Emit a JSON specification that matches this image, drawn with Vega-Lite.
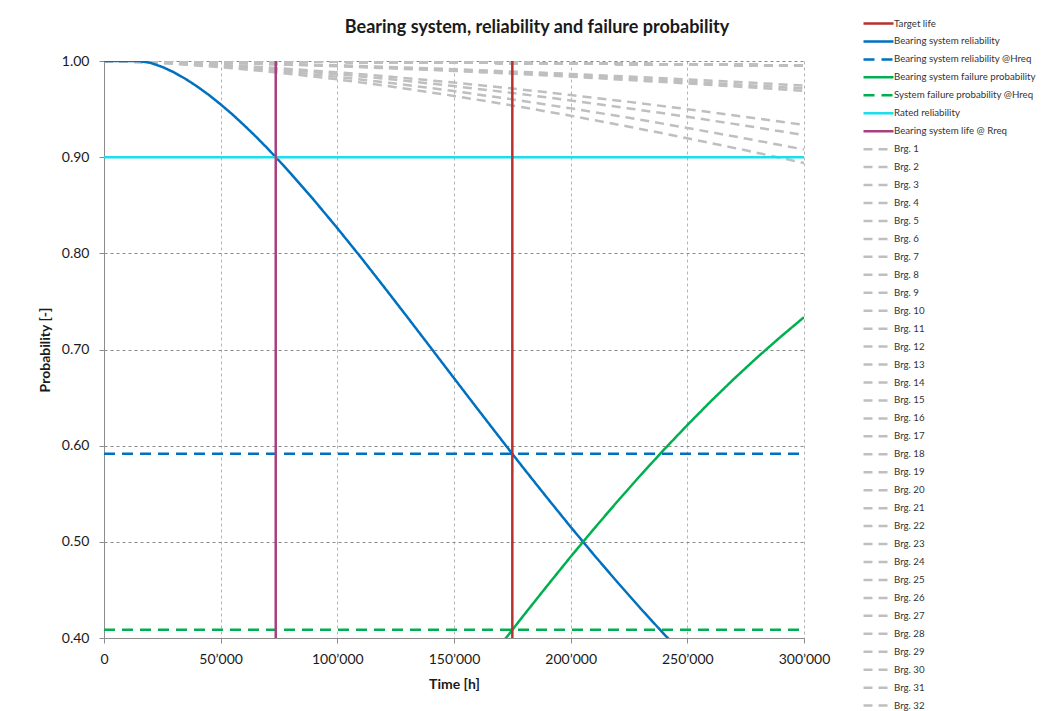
{
  "$schema": "https://vega.github.io/schema/vega-lite/v6.json",
  "width": 700,
  "height": 577,
  "autosize": {"type": "none"},
  "padding": {"left": 104, "top": 61, "right": 253, "bottom": 73},
  "background": "white",
  "title": {
    "text": "Bearing system, reliability and failure probability",
    "font": "Lato",
    "fontSize": 18,
    "fontWeight": "bold",
    "color": "#1a1a1a",
    "anchor": "middle",
    "dx": 83,
    "dy": 44,
    "offset": 24
  },
  "config": {
    "font": "Lato",
    "view": {"stroke": null},
    "axis": {
      "labelFont": "Lato",
      "labelFontSize": 14,
      "labelColor": "#1a1a1a",
      "titleFont": "Lato",
      "titleFontSize": 14,
      "titleFontWeight": "bold",
      "titleColor": "#1a1a1a",
      "domainColor": "#8c8c8c",
      "tickColor": "#8c8c8c",
      "tickSize": 5,
      "labelFlush": false,
      "labelOverlap": false,
      "grid": true,
      "gridDash": [3, 3],
      "gridWidth": 1
    },
    "legend": {
      "orient": "none",
      "legendX": 768,
      "legendY": -44,
      "symbolType": "M-3,0H3",
      "symbolSize": 100,
      "symbolStrokeWidth": 2.5,
      "labelFont": "Lato",
      "labelFontSize": 9.7,
      "labelColor": "#333333",
      "labelOffset": 9,
      "rowPadding": 5.95,
      "symbolLimit": 50,
      "labelLimit": 300,
      "padding": 0
    }
  },
  "datasets": {
    "bearings": [
      {"series": "Brg. 1", "t": 0, "r": 1}, {"series": "Brg. 1", "t": 25000, "r": 0.9987}, {"series": "Brg. 1", "t": 50000, "r": 0.9961}, {"series": "Brg. 1", "t": 75000, "r": 0.9925}, {"series": "Brg. 1", "t": 100000, "r": 0.9882}, {"series": "Brg. 1", "t": 125000, "r": 0.9832}, {"series": "Brg. 1", "t": 150000, "r": 0.9776}, {"series": "Brg. 1", "t": 175000, "r": 0.9714}, {"series": "Brg. 1", "t": 200000, "r": 0.9646}, {"series": "Brg. 1", "t": 225000, "r": 0.9575}, {"series": "Brg. 1", "t": 250000, "r": 0.9499}, {"series": "Brg. 1", "t": 275000, "r": 0.9419}, {"series": "Brg. 1", "t": 300000, "r": 0.9335},
      {"series": "Brg. 2", "t": 0, "r": 1}, {"series": "Brg. 2", "t": 25000, "r": 0.9985}, {"series": "Brg. 2", "t": 50000, "r": 0.9955}, {"series": "Brg. 2", "t": 75000, "r": 0.9913}, {"series": "Brg. 2", "t": 100000, "r": 0.9863}, {"series": "Brg. 2", "t": 125000, "r": 0.9805}, {"series": "Brg. 2", "t": 150000, "r": 0.9739}, {"series": "Brg. 2", "t": 175000, "r": 0.9668}, {"series": "Brg. 2", "t": 200000, "r": 0.959}, {"series": "Brg. 2", "t": 225000, "r": 0.9507}, {"series": "Brg. 2", "t": 250000, "r": 0.942}, {"series": "Brg. 2", "t": 275000, "r": 0.9327}, {"series": "Brg. 2", "t": 300000, "r": 0.923},
      {"series": "Brg. 3", "t": 0, "r": 1}, {"series": "Brg. 3", "t": 25000, "r": 0.9982}, {"series": "Brg. 3", "t": 50000, "r": 0.9945}, {"series": "Brg. 3", "t": 75000, "r": 0.9896}, {"series": "Brg. 3", "t": 100000, "r": 0.9835}, {"series": "Brg. 3", "t": 125000, "r": 0.9765}, {"series": "Brg. 3", "t": 150000, "r": 0.9687}, {"series": "Brg. 3", "t": 175000, "r": 0.9601}, {"series": "Brg. 3", "t": 200000, "r": 0.9508}, {"series": "Brg. 3", "t": 225000, "r": 0.9409}, {"series": "Brg. 3", "t": 250000, "r": 0.9304}, {"series": "Brg. 3", "t": 275000, "r": 0.9194}, {"series": "Brg. 3", "t": 300000, "r": 0.908},
      {"series": "Brg. 4", "t": 0, "r": 1}, {"series": "Brg. 4", "t": 25000, "r": 0.9979}, {"series": "Brg. 4", "t": 50000, "r": 0.9936}, {"series": "Brg. 4", "t": 75000, "r": 0.9879}, {"series": "Brg. 4", "t": 100000, "r": 0.9809}, {"series": "Brg. 4", "t": 125000, "r": 0.9728}, {"series": "Brg. 4", "t": 150000, "r": 0.9637}, {"series": "Brg. 4", "t": 175000, "r": 0.9538}, {"series": "Brg. 4", "t": 200000, "r": 0.9431}, {"series": "Brg. 4", "t": 225000, "r": 0.9317}, {"series": "Brg. 4", "t": 250000, "r": 0.9197}, {"series": "Brg. 4", "t": 275000, "r": 0.9071}, {"series": "Brg. 4", "t": 300000, "r": 0.894},
      {"series": "Brg. 5", "t": 0, "r": 1}, {"series": "Brg. 5", "t": 50000, "r": 0.9985}, {"series": "Brg. 5", "t": 100000, "r": 0.9956}, {"series": "Brg. 5", "t": 150000, "r": 0.9915}, {"series": "Brg. 5", "t": 200000, "r": 0.9866}, {"series": "Brg. 5", "t": 250000, "r": 0.9809}, {"series": "Brg. 5", "t": 300000, "r": 0.9745},
      {"series": "Brg. 6", "t": 0, "r": 1}, {"series": "Brg. 6", "t": 50000, "r": 0.9984}, {"series": "Brg. 6", "t": 100000, "r": 0.995}, {"series": "Brg. 6", "t": 150000, "r": 0.9905}, {"series": "Brg. 6", "t": 200000, "r": 0.985}, {"series": "Brg. 6", "t": 250000, "r": 0.9786}, {"series": "Brg. 6", "t": 300000, "r": 0.9715},
      {"series": "Brg. 7", "t": 0, "r": 1}, {"series": "Brg. 7", "t": 50000, "r": 0.9982}, {"series": "Brg. 7", "t": 100000, "r": 0.9946}, {"series": "Brg. 7", "t": 150000, "r": 0.9897}, {"series": "Brg. 7", "t": 200000, "r": 0.9837}, {"series": "Brg. 7", "t": 250000, "r": 0.9767}, {"series": "Brg. 7", "t": 300000, "r": 0.969},
      {"series": "Brg. 8", "t": 0, "r": 1}, {"series": "Brg. 8", "t": 100000, "r": 0.9992}, {"series": "Brg. 8", "t": 200000, "r": 0.9975}, {"series": "Brg. 8", "t": 300000, "r": 0.9953},
      {"series": "Brg. 9", "t": 0, "r": 1}, {"series": "Brg. 9", "t": 100000, "r": 0.9992}, {"series": "Brg. 9", "t": 200000, "r": 0.9975}, {"series": "Brg. 9", "t": 300000, "r": 0.9953},
      {"series": "Brg. 10", "t": 0, "r": 1}, {"series": "Brg. 10", "t": 100000, "r": 0.9992}, {"series": "Brg. 10", "t": 200000, "r": 0.9975}, {"series": "Brg. 10", "t": 300000, "r": 0.9953},
      {"series": "Brg. 11", "t": 0, "r": 1}, {"series": "Brg. 11", "t": 100000, "r": 0.9992}, {"series": "Brg. 11", "t": 200000, "r": 0.9975}, {"series": "Brg. 11", "t": 300000, "r": 0.9953},
      {"series": "Brg. 12", "t": 0, "r": 1}, {"series": "Brg. 12", "t": 100000, "r": 0.9992}, {"series": "Brg. 12", "t": 200000, "r": 0.9975}, {"series": "Brg. 12", "t": 300000, "r": 0.9953},
      {"series": "Brg. 13", "t": 0, "r": 1}, {"series": "Brg. 13", "t": 100000, "r": 0.9992}, {"series": "Brg. 13", "t": 200000, "r": 0.9975}, {"series": "Brg. 13", "t": 300000, "r": 0.9953},
      {"series": "Brg. 14", "t": 0, "r": 1}, {"series": "Brg. 14", "t": 100000, "r": 0.9992}, {"series": "Brg. 14", "t": 200000, "r": 0.9975}, {"series": "Brg. 14", "t": 300000, "r": 0.9953},
      {"series": "Brg. 15", "t": 0, "r": 1}, {"series": "Brg. 15", "t": 100000, "r": 0.9992}, {"series": "Brg. 15", "t": 200000, "r": 0.9975}, {"series": "Brg. 15", "t": 300000, "r": 0.9953},
      {"series": "Brg. 16", "t": 0, "r": 1}, {"series": "Brg. 16", "t": 100000, "r": 0.9992}, {"series": "Brg. 16", "t": 200000, "r": 0.9975}, {"series": "Brg. 16", "t": 300000, "r": 0.9953},
      {"series": "Brg. 17", "t": 0, "r": 1}, {"series": "Brg. 17", "t": 100000, "r": 0.9992}, {"series": "Brg. 17", "t": 200000, "r": 0.9975}, {"series": "Brg. 17", "t": 300000, "r": 0.9953},
      {"series": "Brg. 18", "t": 0, "r": 1}, {"series": "Brg. 18", "t": 100000, "r": 0.9992}, {"series": "Brg. 18", "t": 200000, "r": 0.9975}, {"series": "Brg. 18", "t": 300000, "r": 0.9953},
      {"series": "Brg. 19", "t": 0, "r": 1}, {"series": "Brg. 19", "t": 100000, "r": 0.9992}, {"series": "Brg. 19", "t": 200000, "r": 0.9975}, {"series": "Brg. 19", "t": 300000, "r": 0.9953},
      {"series": "Brg. 20", "t": 0, "r": 1}, {"series": "Brg. 20", "t": 100000, "r": 0.9992}, {"series": "Brg. 20", "t": 200000, "r": 0.9975}, {"series": "Brg. 20", "t": 300000, "r": 0.9953},
      {"series": "Brg. 21", "t": 0, "r": 1}, {"series": "Brg. 21", "t": 100000, "r": 0.9992}, {"series": "Brg. 21", "t": 200000, "r": 0.9975}, {"series": "Brg. 21", "t": 300000, "r": 0.9953},
      {"series": "Brg. 22", "t": 0, "r": 1}, {"series": "Brg. 22", "t": 100000, "r": 0.9992}, {"series": "Brg. 22", "t": 200000, "r": 0.9975}, {"series": "Brg. 22", "t": 300000, "r": 0.9953},
      {"series": "Brg. 23", "t": 0, "r": 1}, {"series": "Brg. 23", "t": 100000, "r": 0.9992}, {"series": "Brg. 23", "t": 200000, "r": 0.9975}, {"series": "Brg. 23", "t": 300000, "r": 0.9953},
      {"series": "Brg. 24", "t": 0, "r": 1}, {"series": "Brg. 24", "t": 100000, "r": 0.9992}, {"series": "Brg. 24", "t": 200000, "r": 0.9975}, {"series": "Brg. 24", "t": 300000, "r": 0.9953},
      {"series": "Brg. 25", "t": 0, "r": 1}, {"series": "Brg. 25", "t": 100000, "r": 0.9992}, {"series": "Brg. 25", "t": 200000, "r": 0.9975}, {"series": "Brg. 25", "t": 300000, "r": 0.9953},
      {"series": "Brg. 26", "t": 0, "r": 1}, {"series": "Brg. 26", "t": 100000, "r": 0.9992}, {"series": "Brg. 26", "t": 200000, "r": 0.9975}, {"series": "Brg. 26", "t": 300000, "r": 0.9953},
      {"series": "Brg. 27", "t": 0, "r": 1}, {"series": "Brg. 27", "t": 100000, "r": 0.9992}, {"series": "Brg. 27", "t": 200000, "r": 0.9975}, {"series": "Brg. 27", "t": 300000, "r": 0.9953},
      {"series": "Brg. 28", "t": 0, "r": 1}, {"series": "Brg. 28", "t": 100000, "r": 0.9992}, {"series": "Brg. 28", "t": 200000, "r": 0.9975}, {"series": "Brg. 28", "t": 300000, "r": 0.9953},
      {"series": "Brg. 29", "t": 0, "r": 1}, {"series": "Brg. 29", "t": 100000, "r": 0.9992}, {"series": "Brg. 29", "t": 200000, "r": 0.9975}, {"series": "Brg. 29", "t": 300000, "r": 0.9953},
      {"series": "Brg. 30", "t": 0, "r": 1}, {"series": "Brg. 30", "t": 100000, "r": 0.9992}, {"series": "Brg. 30", "t": 200000, "r": 0.9975}, {"series": "Brg. 30", "t": 300000, "r": 0.9953},
      {"series": "Brg. 31", "t": 0, "r": 1}, {"series": "Brg. 31", "t": 100000, "r": 0.9992}, {"series": "Brg. 31", "t": 200000, "r": 0.9975}, {"series": "Brg. 31", "t": 300000, "r": 0.9953},
      {"series": "Brg. 32", "t": 0, "r": 1}, {"series": "Brg. 32", "t": 100000, "r": 0.9992}, {"series": "Brg. 32", "t": 200000, "r": 0.9975}, {"series": "Brg. 32", "t": 300000, "r": 0.9953}
    ],
    "system": [
      {"series": "Bearing system reliability", "t": 0, "r": 1},
      {"series": "Bearing system reliability", "t": 10000, "r": 1},
      {"series": "Bearing system reliability", "t": 15000, "r": 1},
      {"series": "Bearing system reliability", "t": 20000, "r": 0.998},
      {"series": "Bearing system reliability", "t": 25000, "r": 0.9938},
      {"series": "Bearing system reliability", "t": 30000, "r": 0.9882},
      {"series": "Bearing system reliability", "t": 35000, "r": 0.9813},
      {"series": "Bearing system reliability", "t": 40000, "r": 0.9734},
      {"series": "Bearing system reliability", "t": 45000, "r": 0.9646},
      {"series": "Bearing system reliability", "t": 50000, "r": 0.9549},
      {"series": "Bearing system reliability", "t": 55000, "r": 0.9445},
      {"series": "Bearing system reliability", "t": 60000, "r": 0.9333},
      {"series": "Bearing system reliability", "t": 65000, "r": 0.9216},
      {"series": "Bearing system reliability", "t": 70000, "r": 0.9093},
      {"series": "Bearing system reliability", "t": 75000, "r": 0.8964},
      {"series": "Bearing system reliability", "t": 80000, "r": 0.8831},
      {"series": "Bearing system reliability", "t": 90000, "r": 0.8553},
      {"series": "Bearing system reliability", "t": 100000, "r": 0.8262},
      {"series": "Bearing system reliability", "t": 110000, "r": 0.7961},
      {"series": "Bearing system reliability", "t": 120000, "r": 0.7651},
      {"series": "Bearing system reliability", "t": 130000, "r": 0.7337},
      {"series": "Bearing system reliability", "t": 140000, "r": 0.702},
      {"series": "Bearing system reliability", "t": 150000, "r": 0.6702},
      {"series": "Bearing system reliability", "t": 160000, "r": 0.6385},
      {"series": "Bearing system reliability", "t": 170000, "r": 0.6071},
      {"series": "Bearing system reliability", "t": 175000, "r": 0.5915},
      {"series": "Bearing system reliability", "t": 180000, "r": 0.576},
      {"series": "Bearing system reliability", "t": 190000, "r": 0.5455},
      {"series": "Bearing system reliability", "t": 200000, "r": 0.5155},
      {"series": "Bearing system reliability", "t": 210000, "r": 0.4864},
      {"series": "Bearing system reliability", "t": 220000, "r": 0.4581},
      {"series": "Bearing system reliability", "t": 230000, "r": 0.4306},
      {"series": "Bearing system reliability", "t": 240000, "r": 0.4041},
      {"series": "Bearing system reliability", "t": 250000, "r": 0.3786},
      {"series": "Bearing system failure probability", "t": 160000, "r": 0.3615},
      {"series": "Bearing system failure probability", "t": 170000, "r": 0.3929},
      {"series": "Bearing system failure probability", "t": 175000, "r": 0.4085},
      {"series": "Bearing system failure probability", "t": 180000, "r": 0.424},
      {"series": "Bearing system failure probability", "t": 190000, "r": 0.4545},
      {"series": "Bearing system failure probability", "t": 200000, "r": 0.4845},
      {"series": "Bearing system failure probability", "t": 210000, "r": 0.5136},
      {"series": "Bearing system failure probability", "t": 220000, "r": 0.5419},
      {"series": "Bearing system failure probability", "t": 230000, "r": 0.5694},
      {"series": "Bearing system failure probability", "t": 240000, "r": 0.5959},
      {"series": "Bearing system failure probability", "t": 250000, "r": 0.6214},
      {"series": "Bearing system failure probability", "t": 260000, "r": 0.646},
      {"series": "Bearing system failure probability", "t": 270000, "r": 0.6695},
      {"series": "Bearing system failure probability", "t": 280000, "r": 0.6919},
      {"series": "Bearing system failure probability", "t": 290000, "r": 0.7132},
      {"series": "Bearing system failure probability", "t": 300000, "r": 0.7336},
      {"series": "Bearing system reliability @Hreq", "t": 0, "r": 0.5915},
      {"series": "Bearing system reliability @Hreq", "t": 300000, "r": 0.5915},
      {"series": "System failure probability @Hreq", "t": 0, "r": 0.4085},
      {"series": "System failure probability @Hreq", "t": 300000, "r": 0.4085},
      {"series": "Rated reliability", "t": 0, "r": 0.9},
      {"series": "Rated reliability", "t": 300000, "r": 0.9},
      {"series": "Target life", "t": 175000, "r": 0.4},
      {"series": "Target life", "t": 175000, "r": 1},
      {"series": "Bearing system life @ Rreq", "t": 73600, "r": 0.4},
      {"series": "Bearing system life @ Rreq", "t": 73600, "r": 1}
    ]
  },
  "encoding": {
    "x": {
      "field": "t",
      "type": "quantitative",
      "title": "Time [h]",
      "scale": {"domain": [0, 300000], "nice": false, "zero": false},
      "axis": {
        "values": [0, 50000, 100000, 150000, 200000, 250000, 300000],
        "labelExpr": "replace(format(datum.value, ','), ',', '’')",
        "gridColor": "#b4b4b4",
        "labelPadding": 9,
        "titlePadding": 11
      }
    },
    "y": {
      "field": "r",
      "type": "quantitative",
      "title": "Probability [-]",
      "scale": {"domain": [0.4, 1], "nice": false, "zero": false},
      "axis": {
        "values": [0.4, 0.5, 0.6, 0.7, 0.8, 0.9, 1.0],
        "format": ".2f",
        "gridColor": "#8c8c8c",
        "labelPadding": 10,
        "titlePadding": 9
      }
    },
    "color": {
      "field": "series",
      "type": "nominal",
      "title": null,
      "scale": {
        "domain": ["Target life", "Bearing system reliability", "Bearing system reliability @Hreq", "Bearing system failure probability", "System failure probability @Hreq", "Rated reliability", "Bearing system life @ Rreq", "Brg. 1", "Brg. 2", "Brg. 3", "Brg. 4", "Brg. 5", "Brg. 6", "Brg. 7", "Brg. 8", "Brg. 9", "Brg. 10", "Brg. 11", "Brg. 12", "Brg. 13", "Brg. 14", "Brg. 15", "Brg. 16", "Brg. 17", "Brg. 18", "Brg. 19", "Brg. 20", "Brg. 21", "Brg. 22", "Brg. 23", "Brg. 24", "Brg. 25", "Brg. 26", "Brg. 27", "Brg. 28", "Brg. 29", "Brg. 30", "Brg. 31", "Brg. 32"],
        "range": ["#B8312F", "#0070C0", "#0070C0", "#00B050", "#00B050", "#1BDDEC", "#A6407E", "#BFBFBF", "#BFBFBF", "#BFBFBF", "#BFBFBF", "#BFBFBF", "#BFBFBF", "#BFBFBF", "#BFBFBF", "#BFBFBF", "#BFBFBF", "#BFBFBF", "#BFBFBF", "#BFBFBF", "#BFBFBF", "#BFBFBF", "#BFBFBF", "#BFBFBF", "#BFBFBF", "#BFBFBF", "#BFBFBF", "#BFBFBF", "#BFBFBF", "#BFBFBF", "#BFBFBF", "#BFBFBF", "#BFBFBF", "#BFBFBF", "#BFBFBF", "#BFBFBF", "#BFBFBF", "#BFBFBF", "#BFBFBF"]
      }
    },
    "strokeDash": {
      "field": "series",
      "type": "nominal",
      "title": null,
      "scale": {
        "domain": ["Target life", "Bearing system reliability", "Bearing system reliability @Hreq", "Bearing system failure probability", "System failure probability @Hreq", "Rated reliability", "Bearing system life @ Rreq", "Brg. 1", "Brg. 2", "Brg. 3", "Brg. 4", "Brg. 5", "Brg. 6", "Brg. 7", "Brg. 8", "Brg. 9", "Brg. 10", "Brg. 11", "Brg. 12", "Brg. 13", "Brg. 14", "Brg. 15", "Brg. 16", "Brg. 17", "Brg. 18", "Brg. 19", "Brg. 20", "Brg. 21", "Brg. 22", "Brg. 23", "Brg. 24", "Brg. 25", "Brg. 26", "Brg. 27", "Brg. 28", "Brg. 29", "Brg. 30", "Brg. 31", "Brg. 32"],
        "range": [[1, 0], [1, 0], [11, 7], [1, 0], [11, 7], [1, 0], [1, 0], [9, 6], [9, 6], [9, 6], [9, 6], [9, 6], [9, 6], [9, 6], [9, 6], [9, 6], [9, 6], [9, 6], [9, 6], [9, 6], [9, 6], [9, 6], [9, 6], [9, 6], [9, 6], [9, 6], [9, 6], [9, 6], [9, 6], [9, 6], [9, 6], [9, 6], [9, 6], [9, 6], [9, 6], [9, 6], [9, 6], [9, 6], [9, 6]]
      }
    }
  },
  "layer": [
    {
      "data": {"name": "bearings"},
      "mark": {"type": "line", "clip": true, "strokeWidth": 2.5, "strokeCap": "butt"}
    },
    {
      "data": {"name": "system"},
      "mark": {"type": "line", "clip": true, "strokeWidth": 2.5, "strokeCap": "butt"}
    }
  ]
}
